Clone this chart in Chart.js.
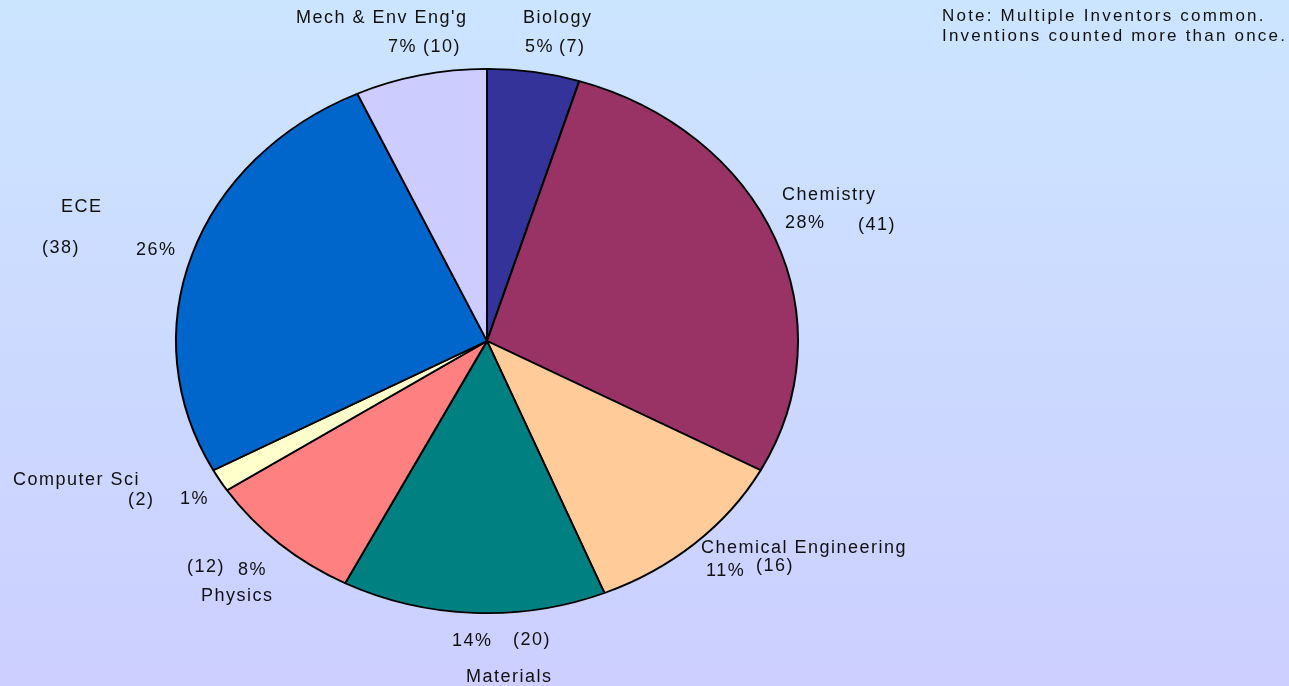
<!DOCTYPE html>
<html>
<head>
<meta charset="utf-8">
<script src="https://cdn.jsdelivr.net/npm/chart.js@4"></script>
<style>
  html, body { margin: 0; padding: 0; }
  body {
    width: 1289px; height: 686px; overflow: hidden;
    background: linear-gradient(to bottom, #cce5ff 0%, #cccfff 100%);
  }
  #wrap { position: relative; width: 1289px; height: 686px; }
</style>
</head>
<body>
<div id="wrap"><canvas id="pieChart" width="1289" height="686"></canvas></div>
<script>
// data, clockwise from 12 o'clock
const categories = ['Biology', 'Chemistry', 'Chemical Engineering', 'Materials',
                    'Physics', 'Computer Sci', 'ECE', "Mech & Env Eng'g"];
const inventions = [7, 41, 16, 20, 12, 2, 38, 10];
const sliceColors = ['#333399', '#993366', '#ffcc99', '#008080',
                     '#ff8080', '#ffffcc', '#0066cc', '#ccccff'];
const noteLines = ['Note: Multiple Inventors common.', 'Inventions counted more than once.'];

// where each label piece sits (left x, middle y): name, percent, count
const labelSpots = [
  { name: [523, 18],  pct: [525, 47],  cnt: [559, 47] },
  { name: [782, 195], pct: [785, 223], cnt: [858, 225] },
  { name: [701, 548], pct: [706, 571], cnt: [756, 566] },
  { name: [466, 677], pct: [452, 641], cnt: [513, 640] },
  { name: [201, 596], pct: [238, 570], cnt: [187, 567] },
  { name: [13, 480],  pct: [180, 499], cnt: [128, 500] },
  { name: [61, 207],  pct: [136, 250], cnt: [42, 248] },
  { name: [296, 18],  pct: [388, 47],  cnt: [423, 47] }
];

const total = inventions.reduce((a, b) => a + b, 0);
const squash = 273 / 312; // the pie is drawn as a flattened ellipse

// flatten the pie vertically around its centre
const flattenPie = {
  id: 'flattenPie',
  beforeDatasetsDraw(chart) {
    const arc = chart.getDatasetMeta(0).data[0];
    const ctx = chart.ctx;
    ctx.save();
    ctx.translate(arc.x, arc.y);
    ctx.scale(1, squash);
    ctx.translate(-arc.x, -arc.y);
  },
  afterDatasetsDraw(chart) {
    chart.ctx.restore();
  }
};

const sliceLabels = {
  id: 'sliceLabels',
  afterDraw(chart) {
    const ctx = chart.ctx;
    ctx.save();
    ctx.fillStyle = '#111111';
    ctx.textBaseline = 'middle';
    ctx.textAlign = 'left';
    ctx.font = '18px "Liberation Sans", Arial, sans-serif';
    ctx.letterSpacing = '1.5px';
    categories.forEach((name, i) => {
      const s = labelSpots[i];
      const pct = Math.round(inventions[i] / total * 100) + '%';
      ctx.fillText(name, s.name[0], s.name[1]);
      ctx.fillText(pct, s.pct[0], s.pct[1]);
      ctx.fillText('(' + inventions[i] + ')', s.cnt[0], s.cnt[1]);
    });
    ctx.font = '17px "Liberation Sans", Arial, sans-serif';
    ctx.letterSpacing = '2.2px';
    noteLines.forEach((t, i) => ctx.fillText(t, 942, 16 + i * 20));
    ctx.restore();
  }
};

window.addEventListener('DOMContentLoaded', () => {
  const ctx = document.getElementById('pieChart').getContext('2d');
  new Chart(ctx, {
    type: 'pie',
    data: {
      labels: categories,
      datasets: [{
        data: inventions,
        backgroundColor: sliceColors,
        borderColor: '#000000',
        borderWidth: 2,
        hoverOffset: 0
      }]
    },
    options: {
      responsive: false,
      animation: false,
      events: [],
      layout: { padding: { left: 175, right: 490, top: 29, bottom: 33 } },
      plugins: {
        legend: { display: false },
        tooltip: { enabled: false }
      }
    },
    plugins: [flattenPie, sliceLabels]
  });
});
</script>
</body>
</html>
